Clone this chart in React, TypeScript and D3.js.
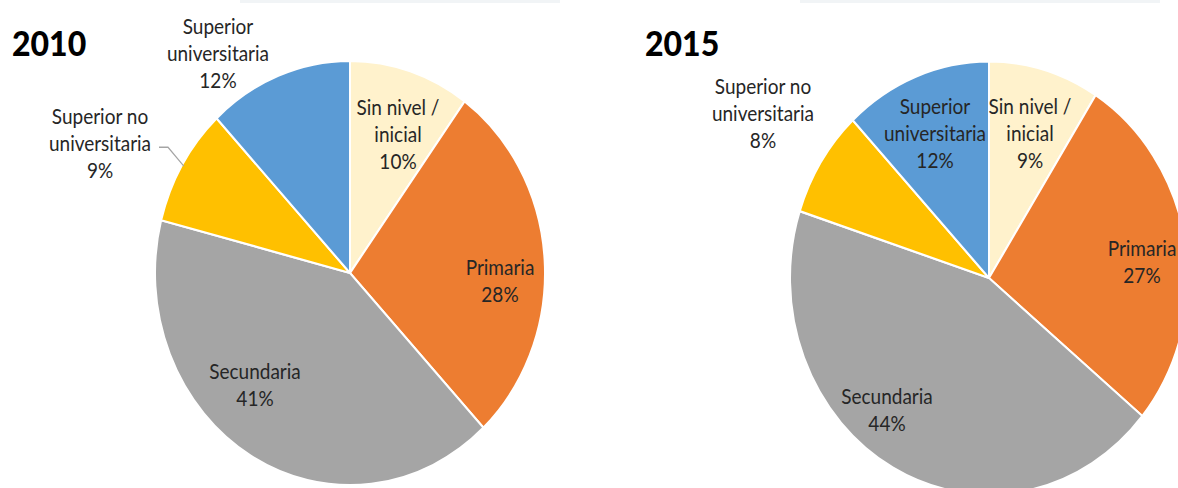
import React from 'react';
import * as d3 from 'd3';

// categories and shares (%)
const categories = ['Sin nivel / inicial', 'Primaria', 'Secundaria', 'Superior no universitaria', 'Superior universitaria'];
const values2010 = [10, 28, 41, 9, 12];
const values2015 = [9, 27, 44, 8, 12];
const years = ['2010', '2015'];

// label lines per category (text is split as in the original)
const labelLines = [['Sin nivel /', 'inicial'], ['Primaria'], ['Secundaria'], ['Superior no', 'universitaria'], ['Superior', 'universitaria']];

const colors = ['#FFF2CC', '#ED7D31', '#A5A5A5', '#FFC000', '#5B9BD5'];

const W = 1178;
const H = 488;
const K = 1.088; // the source image is stretched vertically
const FONT = 'Lato, "Open Sans", sans-serif';
const LINE = 27 / K;

// where each label block sits (centre of first line, stretched px), per chart
const labelAnchors = [
  [[398, 108], [500, 268], [255, 372], [100, 117], [218, 27]],
  [[1030, 107], [1142, 249], [887, 397], [763, 87], [935, 107]],
];

const charts = [
  { cx: 350, cy: 273 / K, r: 195, title: [12, 56], values: values2010, leader: 3 },
  { cx: 989, cy: 278 / K, r: 199, title: [645, 56], values: values2015, leader: -1 },
];

const Pie = ({ chart, idx }: any) => {
  const pie = d3.pie<number>().sort(null).value((d) => d);
  const arcs = pie(chart.values);
  const arc = d3.arc<d3.PieArcDatum<number>>().innerRadius(0).outerRadius(chart.r);
  const anchors = labelAnchors[idx];

  let leaderPath = null;
  if (chart.leader >= 0) {
    const a = arcs[chart.leader];
    const mid = (a.startAngle + a.endAngle) / 2;
    const ex = chart.cx + Math.sin(mid) * chart.r * 0.99;
    const ey = chart.cy - Math.cos(mid) * chart.r * 0.99;
    const [lx, ly] = anchors[chart.leader];
    const sy = (ly + LINE * K) / K + 3;
    const sx = lx + 59;
    leaderPath = d3.line()([[sx, sy], [sx + 9, sy], [ex, ey]]);
  }

  return (
    <g>
      <text x={chart.title[0]} y={chart.title[1] / K} fontFamily={FONT} fontWeight={900} fontSize={32} fill="#000">
        {years[idx]}
      </text>
      <g transform={`translate(${chart.cx},${chart.cy})`}>
        {arcs.map((a, i) => (
          <path key={categories[i]} d={arc(a) || ''} fill={colors[i]} stroke="#fff" strokeWidth={2} strokeLinejoin="round" />
        ))}
      </g>
      {leaderPath && <path d={leaderPath} fill="none" stroke="#A5A5A5" strokeWidth={1.2} />}
      {arcs.map((a, i) => {
        const [x, y] = anchors[i];
        const lines = [...labelLines[i], `${chart.values[i]}%`];
        return (
          <text key={'l' + i} fontFamily={FONT} fontSize={19} fill="#262626" textAnchor="middle">
            {lines.map((t, j) => (
              <tspan key={j} x={x} y={y / K + j * LINE} dy="0.36em">
                {t}
              </tspan>
            ))}
          </text>
        );
      })}
    </g>
  );
};

export default function App() {
  return (
    <svg width={W} height={H} style={{ position: 'absolute', left: 0, top: 0, background: '#fff' }}>
      <rect x={240} y={0} width={320} height={3} fill="#f1f4f6" />
      <rect x={800} y={0} width={360} height={3} fill="#f1f4f6" />
      <g transform={`scale(1,${K})`}>
        {charts.map((c, i) => (
          <Pie key={years[i]} chart={c} idx={i} />
        ))}
      </g>
    </svg>
  );
}
